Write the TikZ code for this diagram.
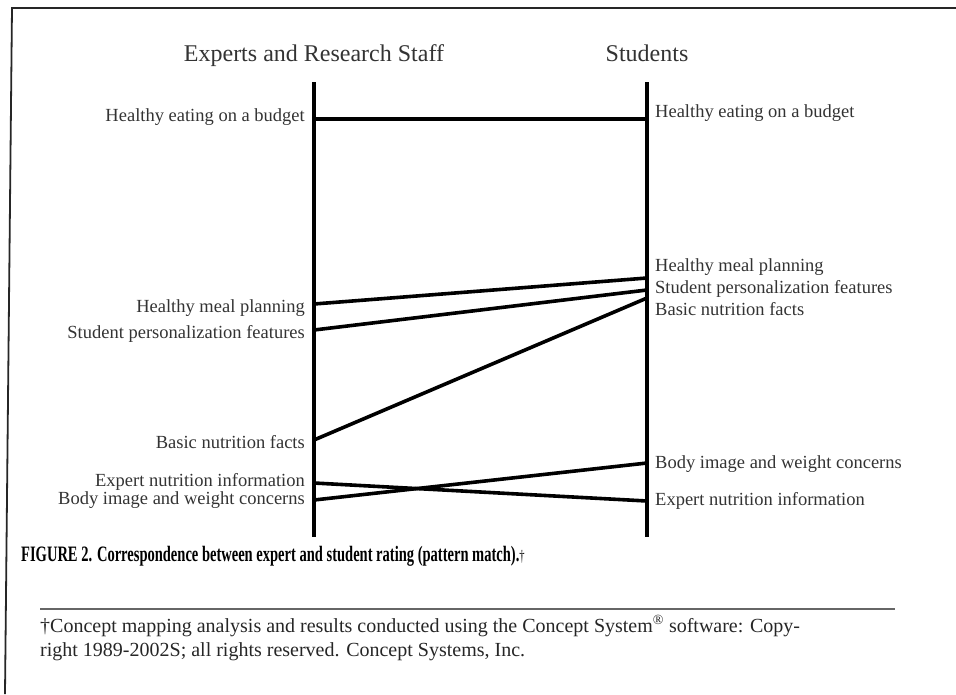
\documentclass[tikz,border=0pt]{standalone}
\usepackage{fontspec}
\setmainfont{Liberation Serif}
\newfontfamily\narrowfont[FakeStretch=0.66]{Liberation Serif}

\begin{document}
\begin{tikzpicture}[x=1pt,y=-1pt,
    axis/.style={line width=3.6pt},
    link/.style={line width=3.6pt},
    lbl/.style={inner sep=0pt,text=black!80,font=\fontsize{18.5}{20}\selectfont},
    head/.style={inner sep=0pt,text=black!80,font=\fontsize{24}{28}\selectfont,anchor=base}]
    \useasboundingbox (0,0) rectangle (956,694);
    % frame round the figure
    \draw[line width=1.8pt,black!85] (5,694) -- (12,8) -- (956,8);

    % column heads
    \node[head] (hexp) at (314,61) {Experts and Research Staff};
    \node[head] (hstu) at (647,61) {Students};

    % the two rating axes
    \coordinate (etop) at (314,82);
    \coordinate (ebot) at (314,537);
    \coordinate (stop) at (647,82);
    \coordinate (sbot) at (647,537);
    \draw[axis] (etop) -- (ebot);
    \draw[axis] (stop) -- (sbot);

    % cluster positions, expert side
    \coordinate (e1) at (314,119);
    \coordinate (e2) at (314,304);
    \coordinate (e3) at (314,330);
    \coordinate (e4) at (314,440);
    \coordinate (e5) at (314,483);
    \coordinate (e6) at (314,500);
    % cluster positions, student side
    \coordinate (s1) at (647,119);
    \coordinate (s2) at (647,278);
    \coordinate (s3) at (647,290);
    \coordinate (s4) at (647,298);
    \coordinate (s5) at (647,463);
    \coordinate (s6) at (647,501);

    % pattern match links
    \draw[link] (e1) -- (s1);
    \draw[link] (e2) -- (s2);
    \draw[link] (e3) -- (s3);
    \draw[link] (e4) -- (s4);
    \draw[link] (e5) -- (s6);
    \draw[link] (e6) -- (s5);

    % labels left
    \node[lbl,anchor=mid east] (le1) at (305,119) {Healthy eating on a budget};
    \node[lbl,anchor=mid east] (le2) at (305,310) {Healthy meal planning};
    \node[lbl,anchor=mid east] (le3) at (305,336) {Student personalization features};
    \node[lbl,anchor=mid east] (le4) at (305,446) {Basic nutrition facts};
    \node[lbl,anchor=mid east] (le5) at (305,484) {Expert nutrition information};
    \node[lbl,anchor=mid east] (le6) at (305,502) {Body image and weight concerns};
    % labels right
    \node[lbl,anchor=mid west] (ls1) at (655,115) {Healthy eating on a budget};
    \node[lbl,anchor=mid west] (ls2) at (655,269) {Healthy meal planning};
    \node[lbl,anchor=mid west] (ls3) at (655,291) {Student personalization features};
    \node[lbl,anchor=mid west] (ls4) at (655,313) {Basic nutrition facts};
    \node[lbl,anchor=mid west] (ls5) at (655,466) {Body image and weight concerns};
    \node[lbl,anchor=mid west] (ls6) at (655,503) {Expert nutrition information};

    % caption, rule and footnote
    \node[inner sep=0pt,anchor=base west,font=\narrowfont\bfseries\fontsize{22}{24}\selectfont] (cap) at (21,561)
        {FIGURE 2. Correspondence between expert and student rating (pattern match).\textmd{\fontsize{16}{18}\selectfont\dag}};
    \coordinate (rl) at (40,609);
    \coordinate (rr) at (895,609);
    \draw[line width=2pt,black!60] (rl) -- (rr);
    \node[inner sep=0pt,anchor=base west,text=black!85,font=\fontsize{20}{24}\selectfont,align=left] (fn) at (40,656)
        {\dag Concept mapping analysis and results conducted using the Concept System\textsuperscript{\textregistered} software: Copy-\\
         right 1989-2002S; all rights reserved. Concept Systems, Inc.};
\end{tikzpicture}
\end{document}
